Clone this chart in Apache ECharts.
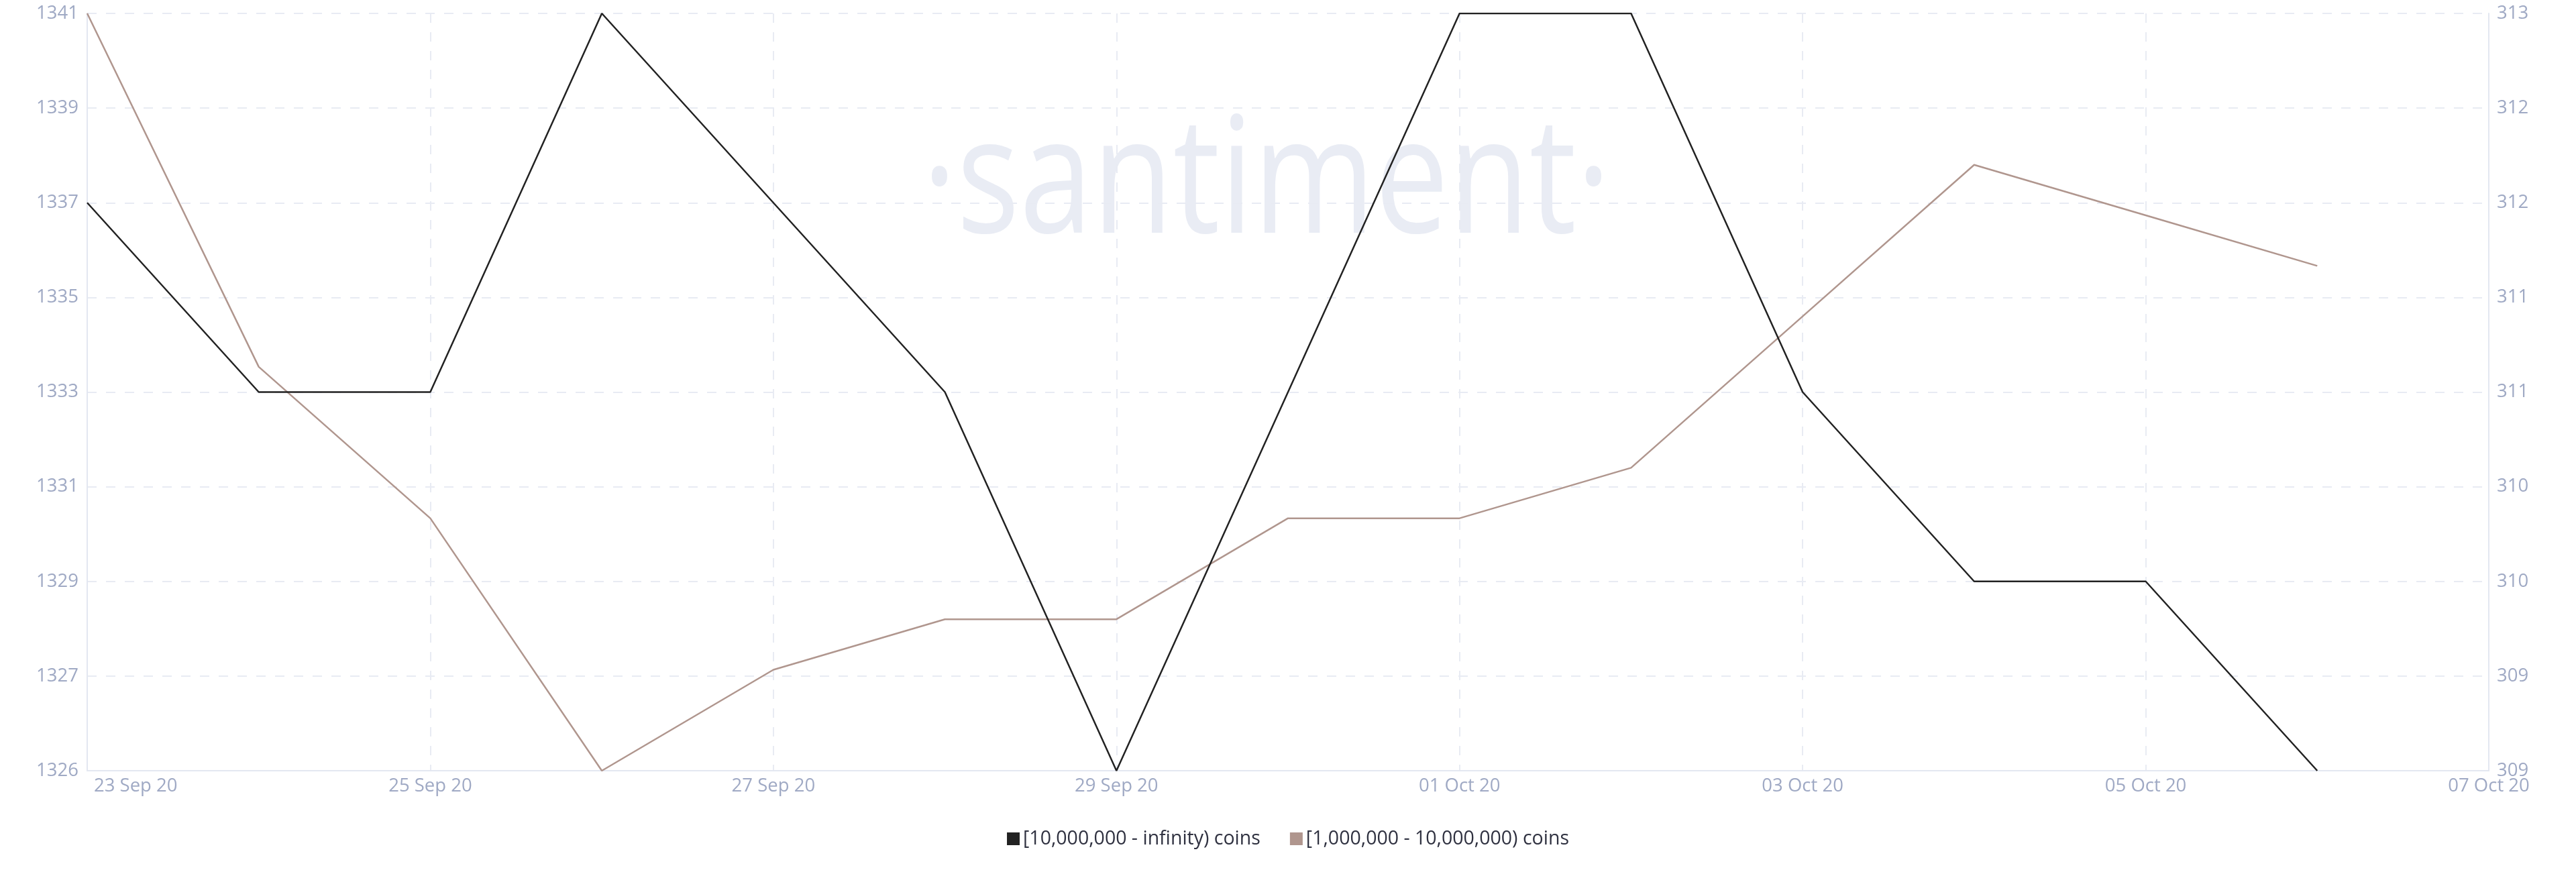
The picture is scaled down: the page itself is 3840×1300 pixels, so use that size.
<!DOCTYPE html>
<html>
<head>
<meta charset="utf-8">
<script src="https://cdn.jsdelivr.net/npm/echarts@6/dist/echarts.min.js"></script>
<style>
html,body{margin:0;padding:0;background:#fff;}
#chart{width:3840px;height:1300px;}
</style>
</head>
<body>
<div id="chart"></div>
<script>
// Categories (daily dates)
const dates = ['23 Sep 20','24 Sep 20','25 Sep 20','26 Sep 20','27 Sep 20','28 Sep 20','29 Sep 20','30 Sep 20','01 Oct 20','02 Oct 20','03 Oct 20','04 Oct 20','05 Oct 20','06 Oct 20','07 Oct 20'];

// Series: [10,000,000 - infinity) coins (right axis)
const bigHolders = [312, 311, 311, 313, 312, 311, 309, 311, 313, 313, 311, 310, 310, 309];
// Series: [1,000,000 - 10,000,000) coins (left axis)
const midHolders = [1341, 1334, 1331, 1326, 1328, 1329, 1329, 1331, 1331, 1332, 1335, 1338, 1337, 1336];

const seriesNames = ['[10,000,000 - infinity) coins', '[1,000,000 - 10,000,000) coins'];

// Axis ranges
const leftMin = 1326, leftMax = 1341, leftStep = 1.875;
const rightMin = 309, rightMax = 313, rightStep = 0.5;

const labelColor = '#9fa9c4';
const gridColor = '#e8ebf3';
const axisColor = '#e3e7f1';
const font = '"Open Sans", sans-serif';
const labelSize = 27.5;

const chart = echarts.init(document.getElementById('chart'));
chart.setOption({
  animation: false,
  backgroundColor: '#ffffff',
  graphic: [{
    type: 'text',
    x: 1888, y: 278,
    scaleX: 0.81,
    z: -10,
    silent: true,
    style: {
      text: '·santiment·',
      font: '242px "Open Sans"',
      fill: '#e9ecf4',
      textAlign: 'center',
      textVerticalAlign: 'middle'
    }
  }],
  grid: { left: 130, right: 130, top: 20, bottom: 151, containLabel: false },
  legend: {
    data: seriesNames,
    bottom: 30,
    left: 'center',
    icon: 'rect',
    itemWidth: 19,
    itemHeight: 19,
    itemGap: 44,
    textStyle: { color: '#2f3140', fontSize: 28.5, fontFamily: font }
  },
  xAxis: {
    type: 'category',
    data: dates,
    boundaryGap: false,
    axisLine: { show: true, lineStyle: { color: axisColor, width: 2 } },
    axisTick: { show: false },
    axisLabel: {
      interval: 1,
      color: labelColor,
      fontSize: labelSize,
      fontFamily: font,
      margin: 9,
      alignMinLabel: 'left',
      formatter: function (v, i) { return i === 0 ? '{f|' + v + '}' : v; },
      rich: { f: { padding: [0, 0, 0, 10], color: labelColor, fontSize: labelSize, fontFamily: font } }
    },
    splitLine: { show: true, interval: 1, lineStyle: { color: gridColor, type: [14, 14], width: 2 } }
  },
  yAxis: [{
    type: 'value',
    position: 'left',
    min: leftMin, max: leftMax, interval: leftStep,
    axisLine: { show: true, lineStyle: { color: axisColor, width: 2 } },
    axisTick: { show: false },
    axisLabel: {
      color: labelColor, fontSize: labelSize, fontFamily: font, margin: 13,
      formatter: function (v) { return String(Math.floor(v + 1e-9)); }
    },
    splitLine: { show: true, lineStyle: { color: gridColor, type: [14, 14], width: 2 } }
  }, {
    type: 'value',
    position: 'right',
    min: rightMin, max: rightMax, interval: rightStep,
    axisLine: { show: true, lineStyle: { color: axisColor, width: 2 } },
    axisTick: { show: false },
    axisLabel: {
      color: labelColor, fontSize: labelSize, fontFamily: font, margin: 12,
      formatter: function (v) { return String(Math.floor(v + 1e-9)); }
    },
    splitLine: { show: false }
  }],
  series: [{
    name: seriesNames[0],
    type: 'line',
    yAxisIndex: 1,
    data: bigHolders,
    symbol: 'none',
    color: '#222222',
    lineStyle: { color: '#222222', width: 2.5 },
    z: 3
  }, {
    name: seriesNames[1],
    type: 'line',
    yAxisIndex: 0,
    data: midHolders,
    symbol: 'none',
    color: '#b0968e',
    lineStyle: { color: '#b0968e', width: 2.5 },
    z: 2
  }]
});
</script>
</body>
</html>
